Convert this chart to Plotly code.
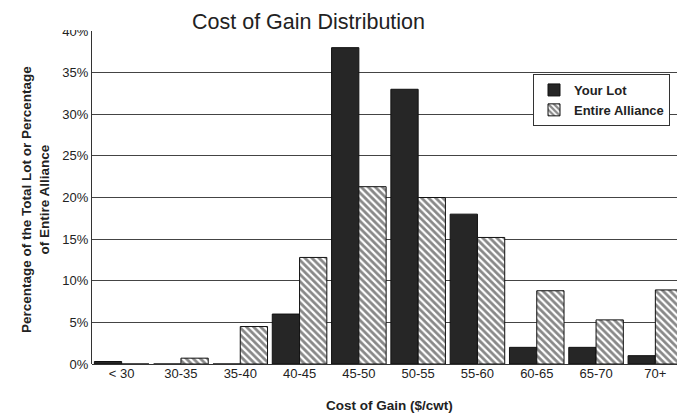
import plotly.graph_objects as go

categories = ["< 30", "30-35", "35-40", "40-45", "45-50", "50-55", "55-60", "60-65", "65-70", "70+"]
your_lot = [0.3, 0, 0, 6, 38, 33, 18, 2, 2, 1]
entire_alliance = [0, 0.7, 4.5, 12.8, 21.3, 20, 15.2, 8.8, 5.3, 8.9]
y_ticks = [0, 5, 10, 15, 20, 25, 30, 35, 40]
y_tick_labels = [f"{v}%" for v in y_ticks]

font_family = "Liberation Sans, Arial, sans-serif"
W, H = 685, 413
OFF = 8  # page body margin
# plot area in screen pixels
PL, PR, PT, PB = 92, 685, 31, 364
ML, MT = PL - OFF, PT - OFF
MR = W - (PR - OFF)
MB = H - (PB - OFF)
pw = PR - PL
ph = PB - PT


def px(xs):
    return (xs - PL) / pw


def py(ys):
    return (PB - ys) / ph


fig = go.Figure()
fig.add_trace(go.Bar(
    x=categories, y=your_lot, name="<b>Your Lot</b>", legendgroup="a",
    marker=dict(color="#262626", line=dict(color="#111111", width=1)),
))
fig.add_trace(go.Bar(
    x=categories, y=entire_alliance, name="<b>Entire Alliance</b>", legendgroup="b",
    marker=dict(color="white", line=dict(color="#111111", width=1),
                pattern=dict(shape="\\", fgcolor="#111111", bgcolor="white", size=5, solidity=0.55)),
))

fig.update_layout(
    width=W, height=H,
    margin=dict(l=ML, r=MR, t=MT, b=MB, autoexpand=False),
    paper_bgcolor="white", plot_bgcolor="white",
    barmode="group", bargap=0.08, bargroupgap=0,
    font=dict(family=font_family, color="#222222", size=13),
    showlegend=True,
    legend=dict(x=px(533), y=py(74), xanchor="left", yanchor="top",
                bordercolor="#333333", borderwidth=1, bgcolor="white",
                font=dict(size=13, family=font_family, color="#222222"),
                itemwidth=30, traceorder="normal", tracegroupgap=9),
    xaxis=dict(tickfont=dict(size=13), ticks="", showline=False, automargin=False),
    yaxis=dict(
        range=[0, 40], tickvals=y_ticks, ticktext=y_tick_labels,
        showgrid=True, gridcolor="#444444", gridwidth=1,
        zeroline=True, zerolinecolor="#333333", zerolinewidth=1,
        showline=True, linecolor="#333333", linewidth=1,
        tickfont=dict(size=13), ticks="", ticklen=0, automargin=False,
    ),
    shapes=[dict(type="rect", xref="paper", yref="paper", layer="above",
                 x0=px(50), x1=px(90), y0=py(30), y1=py(20),
                 fillcolor="white", line=dict(width=0))],
    annotations=[
        dict(text="Cost of Gain Distribution", xref="paper", yref="paper",
             x=px(308), y=py(9), xanchor="center", yanchor="top", borderpad=0,
             showarrow=False, font=dict(size=21.5, color="#222222", family=font_family)),
        dict(text="<b>Cost of Gain ($/cwt)</b>", xref="paper", yref="paper",
             x=px(389), y=py(405), xanchor="center", yanchor="middle",
             showarrow=False, font=dict(size=13.5)),
        dict(text="<b>Percentage of the Total Lot or Percentage<br>of Entire Alliance</b>",
             xref="paper", yref="paper", textangle=-90,
             x=px(35), y=py(200), xanchor="center", yanchor="middle",
             showarrow=False, font=dict(size=13.5)),
    ],
)

fig.write_html("out.html")
